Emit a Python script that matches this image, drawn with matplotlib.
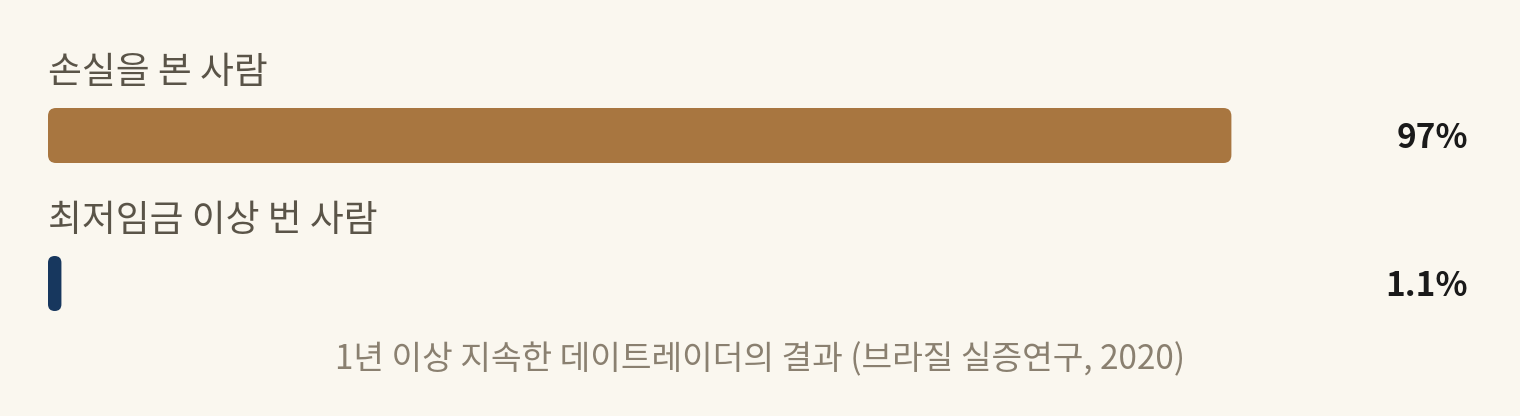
import matplotlib
matplotlib.use("Agg")
import matplotlib.pyplot as plt
from matplotlib.patches import FancyBboxPatch

categories = ["손실을 본 사람", "최저임금 이상 번 사람"]
values = [97, 1.1]
value_labels = ["97%", "1.1%"]
colors = ["#a87640", "#17375e"]
caption = "1년 이상 지속한 데이트레이더의 결과 (브라질 실증연구, 2020)"

BG = "#faf7ef"
plt.rcParams['font.family'] = ['Noto Sans CJK KR', 'DejaVu Sans']

W, H, DPI = 1520, 416, 100
fig = plt.figure(figsize=(W / DPI, H / DPI), dpi=DPI, facecolor=BG)
ax = fig.add_axes([48 / W, 0, 1220 / W, 1])
ax.set_facecolor(BG)
ax.axis("off")
ax.set_xlim(0, 100)
step = 148.0
ax.set_ylim(1 + (H - 283.5) / step, -135.5 / step)
bar_h = 55 / step

fig.canvas.draw()
for i, (v, c) in enumerate(zip(values, colors)):
    x0, y0 = ax.transData.transform((0, i + bar_h / 2))
    x1, y1 = ax.transData.transform((v, i - bar_h / 2))
    w, h = x1 - x0, y1 - y0
    r = min(8, w / 2)
    patch = FancyBboxPatch((x0, y0), w, h,
                           boxstyle=f"round,pad=0,rounding_size={r}",
                           transform=None, facecolor=c, edgecolor="none")
    fig.patches.append(patch)
    # category label above bar
    ax.annotate(categories[i], xy=(0, i - bar_h / 2), xytext=(0, 25),
                textcoords="offset pixels", ha="left", va="baseline",
                fontsize=26.5, color="#5a5448")
    # value label on the right
    ax.annotate(value_labels[i], xy=(100, i), xytext=(200, 1),
                textcoords="offset pixels", ha="right", va="center_baseline",
                fontsize=24, fontweight="bold", color="#1a1a1a")

fig.text(0.5, (H - 360) / H, caption, ha="center", va="center",
         fontsize=24, color="#8a8070")

fig.savefig("out.png", dpi=DPI, facecolor=BG)
